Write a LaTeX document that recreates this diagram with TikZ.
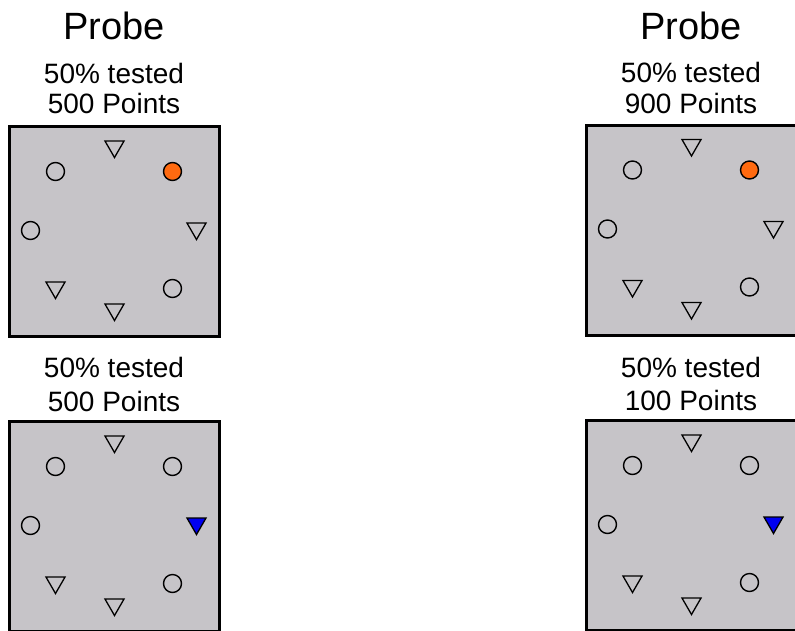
\documentclass[tikz,border=0pt]{standalone}
\usepackage{fontspec}
\setmainfont{Liberation Sans}
\usepackage{tikz}
\usetikzlibrary{positioning,shapes.geometric}
\definecolor{panelgray}{HTML}{C6C4C8}
\definecolor{hitorange}{HTML}{FF6A10}
\definecolor{hitblue}{HTML}{0000F0}
\tikzset{
  panel/.style={draw=black, fill=panelgray, line width=3pt, minimum width=210pt, minimum height=210pt, inner sep=0pt},
  ring/.style={circle, draw=black, fill=#1, line width=1.4pt, minimum size=18pt, inner sep=0pt},
  ring/.default=panelgray,
  tri/.style={regular polygon, regular polygon sides=3, shape border rotate=180, draw=black, fill=#1,
              line width=1.3pt, minimum size=22pt, inner sep=0pt},
  tri/.default=panelgray,
  title/.style={font=\fontsize{38}{40}\selectfont, anchor=base},
  info/.style={font=\fontsize{28}{30}\selectfont, anchor=base},
}
% one probe square: name, centre, fill of the upper right ring, fill of the right triangle
\newcommand{\probepanel}[4]{%
  \node[panel] (#1) at (#2) {};
  \begin{scope}[shift={(#2)}]
    \node[tri] (#1-n) at (0,-85) {};
    \node[ring] (#1-nw) at (-59,-60) {};
    \node[ring=#3] (#1-ne) at (58,-60) {};
    \node[ring] (#1-w) at (-84,-1) {};
    \node[tri=#4] (#1-e) at (82,-3) {};
    \node[tri] (#1-sw) at (-59,56) {};
    \node[ring] (#1-se) at (58,57) {};
    \node[tri] (#1-s) at (0,78) {};
  \end{scope}}

\begin{document}
\begin{tikzpicture}[x=1pt, y=-1pt]
  \useasboundingbox (0,0) rectangle (795,630);
  \clip (0,0) rectangle (795,630);
  % left column
  \node[title] (probeL) at (114,39) {Probe};
  \node[info] (testA) at (114,83) {50\% tested};
  \node[info] (ptsA) at (114,113) {500 Points};
  \probepanel{A}{114.5,231.5}{hitorange}{panelgray}
  \node[info] (testC) at (114,377) {50\% tested};
  \node[info] (ptsC) at (114,411) {500 Points};
  \probepanel{C}{114.5,526.5}{panelgray}{hitblue}
  % right column
  \node[title] (probeR) at (691,39) {Probe};
  \node[info] (testB) at (691,82) {50\% tested};
  \node[info] (ptsB) at (691,113) {900 Points};
  \probepanel{B}{691.5,230}{hitorange}{panelgray}
  \node[info] (testD) at (691,377) {50\% tested};
  \node[info] (ptsD) at (691,410) {100 Points};
  \probepanel{D}{691.5,525.5}{panelgray}{hitblue}
\end{tikzpicture}
\end{document}
